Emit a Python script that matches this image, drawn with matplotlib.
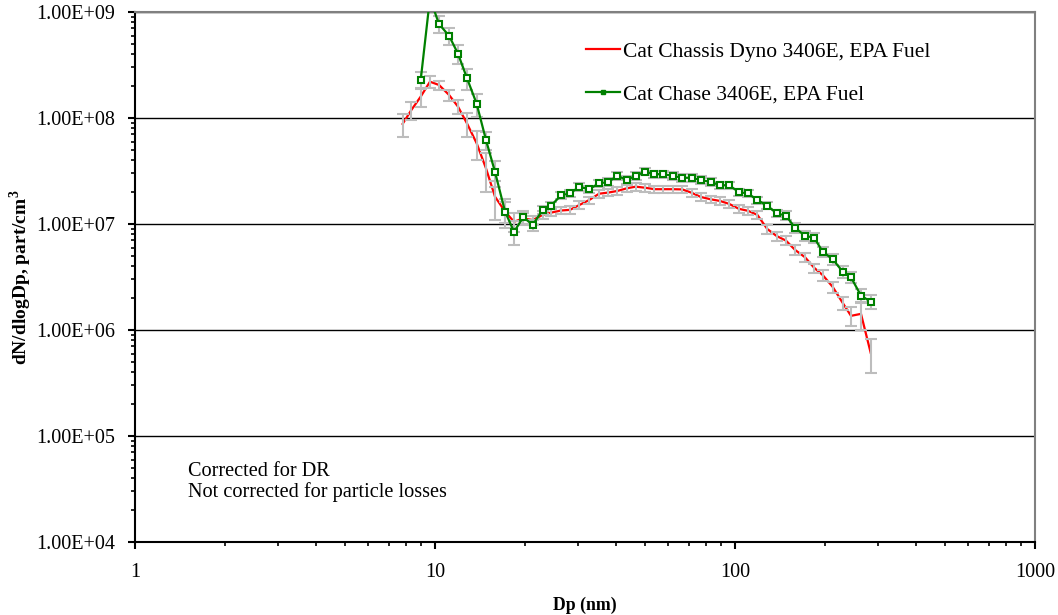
import matplotlib
matplotlib.use("Agg")
import matplotlib.pyplot as plt
from matplotlib.ticker import LogLocator, FixedLocator, FixedFormatter, NullFormatter

# ---------------- data ----------------
dp_common = [8.96, 9.62, 10.31, 11.14, 11.93, 12.78, 13.77, 14.79, 15.85, 17.12,
             18.34, 19.70, 21.17, 22.86, 24.36, 26.30, 28.18, 30.27, 32.61, 35.22,
             37.82, 40.53, 43.55, 46.67, 50.12, 53.83, 57.68, 61.98, 66.74, 71.74,
             76.87, 82.99, 89.13, 95.50, 103.1, 110.7, 118.7, 128.1, 137.7, 147.9,
             158.5, 171.1, 183.8, 196.0, 211.7, 228.6, 243.6, 263.0, 283.3]

dp_dyno = [7.80, 8.34] + dp_common
n_dyno = [8.8e7, 1.19e8, 1.59e8, 2.2e8, 2.05e8, 1.65e8, 1.28e8, 8.9e7, 5.77e7, 3.35e7,
          1.81e7, 1.31e7, 1.05e7, 1.13e7, 1.09e7, 1.22e7, 1.28e7, 1.34e7, 1.36e7, 1.51e7,
          1.68e7, 1.93e7, 1.98e7, 2.05e7, 2.17e7, 2.25e7, 2.2e7, 2.13e7, 2.13e7, 2.13e7,
          2.12e7, 1.97e7, 1.8e7, 1.71e7, 1.65e7, 1.55e7, 1.39e7, 1.33e7, 1.22e7, 8.97e6,
          7.7e6, 6.97e6, 5.7e6, 4.86e6, 3.85e6, 3.3e6, 2.55e6, 1.8e6, 1.36e6, 1.42e6, 6.1e5]
err_dyno = [0.25, 0.2, 0.2, 0.12, 0.1, 0.12, 0.15, 0.25, 0.3, 0.4,
            0.4, 0.3, 0.2, 0.12, 0.1, 0.08, 0.08, 0.08, 0.08, 0.08,
            0.08, 0.08, 0.08, 0.08, 0.08, 0.08, 0.08, 0.08, 0.08, 0.08,
            0.08, 0.08, 0.08, 0.08, 0.08, 0.08, 0.08, 0.08, 0.08, 0.1,
            0.1, 0.1, 0.1, 0.1, 0.1, 0.12, 0.12, 0.15, 0.2, 0.3, 0.35]

dp_chase = dp_common
n_chase = [2.28e8, 1.35e9, 7.7e8, 5.97e8, 4.04e8, 2.38e8, 1.36e8, 6.2e7, 3.1e7, 1.31e7,
           8.45e6, 1.16e7, 9.8e6, 1.36e7, 1.49e7, 1.86e7, 1.95e7, 2.24e7, 2.13e7, 2.42e7,
           2.49e7, 2.85e7, 2.6e7, 2.85e7, 3.12e7, 2.95e7, 2.95e7, 2.85e7, 2.73e7, 2.73e7,
           2.6e7, 2.49e7, 2.32e7, 2.32e7, 2.0e7, 1.94e7, 1.68e7, 1.49e7, 1.26e7, 1.2e7,
           9.2e6, 7.76e6, 7.4e6, 5.48e6, 4.65e6, 3.55e6, 3.14e6, 2.11e6, 1.85e6]
err_chase = [0.18, 0.2, 0.18, 0.18, 0.2, 0.22, 0.25, 0.2, 0.28, 0.22,
             0.25, 0.15, 0.12, 0.08, 0.08, 0.08, 0.08, 0.08, 0.08, 0.08,
             0.08, 0.08, 0.08, 0.08, 0.08, 0.08, 0.08, 0.08, 0.08, 0.08,
             0.08, 0.08, 0.08, 0.08, 0.08, 0.08, 0.08, 0.08, 0.08, 0.1,
             0.1, 0.1, 0.1, 0.1, 0.12, 0.12, 0.12, 0.15, 0.15]

labels = ["Cat Chassis Dyno 3406E, EPA Fuel", "Cat Chase 3406E, EPA Fuel"]
x_ticks = [1, 10, 100, 1000]
x_ticklabels = ["1", "10", "100", "1000"]
y_ticks = [1e4, 1e5, 1e6, 1e7, 1e8, 1e9]
y_ticklabels = ["1.00E+04", "1.00E+05", "1.00E+06", "1.00E+07", "1.00E+08", "1.00E+09"]
note_lines = ["Corrected for DR", "Not corrected for particle losses"]

# ---------------- figure ----------------
plt.rcParams['font.family'] = ['Liberation Serif', 'DejaVu Serif']
plt.rcParams['mathtext.fontset'] = 'custom'
plt.rcParams['mathtext.bf'] = 'Liberation Serif:bold'
W, H = 1058, 615
fig = plt.figure(figsize=(W / 100, H / 100), dpi=100)
ax = fig.add_axes([135 / W, 1 - 542 / H, (1035 - 135) / W, (542 - 12) / H])

ax.set_xscale('log')
ax.set_yscale('log')
ax.set_xlim(1, 1000)
ax.set_ylim(1e4, 1e9)

for y in y_ticks[1:]:
    ax.axhline(y, color='black', lw=1.0, zorder=1)

yerr_d = [v * e for v, e in zip(n_dyno, err_dyno)]
yerr_c = [v * e for v, e in zip(n_chase, err_chase)]

ax.plot(dp_dyno, n_dyno, color='#ff0000', lw=1.6, zorder=3, label=labels[0])
ax.errorbar(dp_dyno, n_dyno, yerr=yerr_d, fmt='none', ecolor='#bdbdbd',
            elinewidth=1.5, capsize=4, capthick=1.5, zorder=4)
ax.errorbar(dp_chase, n_chase, yerr=yerr_c, fmt='none', ecolor='#bdbdbd',
            elinewidth=1.5, capsize=4, capthick=1.5, zorder=4)
ax.plot(dp_chase, n_chase, color='#008000', lw=1.6, marker='s', markersize=4.5,
        markerfacecolor='white', markeredgecolor='#008000', markeredgewidth=1.5,
        zorder=5)
# legend proxy for the green series (small filled marker as in the reference)
ax.plot([], [], color='#008000', lw=1.6, marker='s', markersize=3.5,
        markerfacecolor='#008000', markeredgecolor='#008000', label=labels[1])

# spines
for side in ('left', 'bottom'):
    ax.spines[side].set_color('black')
    ax.spines[side].set_linewidth(1.5)
for side in ('top', 'right'):
    ax.spines[side].set_color('#808080')
    ax.spines[side].set_linewidth(1.5)

ax.xaxis.set_major_locator(FixedLocator(x_ticks))
ax.xaxis.set_major_formatter(FixedFormatter(x_ticklabels))
ax.xaxis.set_minor_locator(LogLocator(base=10, subs=range(2, 10)))
ax.xaxis.set_minor_formatter(NullFormatter())
ax.yaxis.set_major_locator(FixedLocator(y_ticks))
ax.yaxis.set_major_formatter(FixedFormatter(y_ticklabels))
ax.yaxis.set_minor_locator(LogLocator(base=10, subs=range(2, 10)))
ax.yaxis.set_minor_formatter(NullFormatter())

ax.tick_params(axis='both', which='major', direction='out', length=5, width=1.5,
               labelsize=14.5, color='black')
ax.tick_params(axis='both', which='minor', direction='out', length=3, width=1.2,
               color='black')
ax.tick_params(axis='x', which='major', pad=10)
ax.tick_params(axis='y', which='major', pad=9)

ax.set_xlabel('Dp (nm)', fontsize=12.8, fontweight='bold', labelpad=11)
ax.set_ylabel(r'dN/dlogDp, part/cm$^{\mathbf{3}}$', fontsize=14, fontweight='bold',
              labelpad=2)

ax.legend(loc='upper left', bbox_to_anchor=(442 / 900, 1 - 21 / 530), frameon=False,
          fontsize=15.5, handlelength=1.6, handletextpad=0.15, labelspacing=1.05,
          borderaxespad=0)

for i, t in enumerate(note_lines):
    fig.text(188 / W, 1 - (476 + 21 * i) / H, t, fontsize=14.6, va='baseline', ha='left')

fig.savefig('out.png', dpi=100)
